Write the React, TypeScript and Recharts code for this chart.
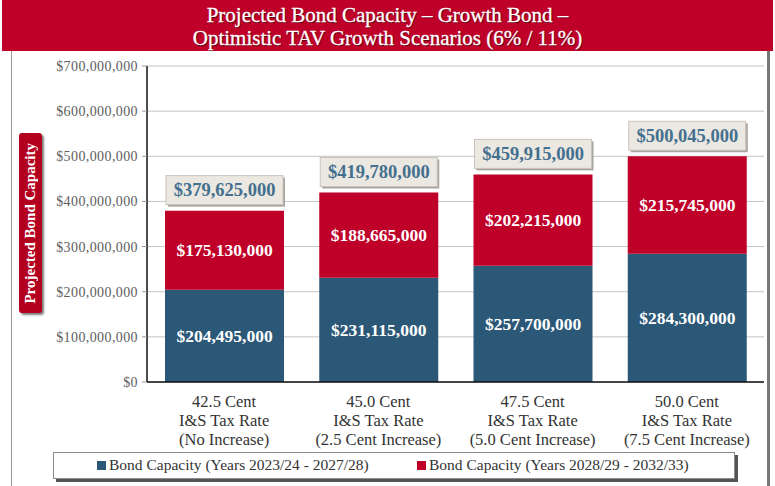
import { Bar, BarChart, CartesianGrid, LabelList, XAxis, YAxis } from "recharts";

const rateLabels = ["42.5 Cent", "45.0 Cent", "47.5 Cent", "50.0 Cent"];
const taxLabels = ["I&S Tax Rate", "I&S Tax Rate", "I&S Tax Rate", "I&S Tax Rate"];
const increaseLabels = [
  "(No Increase)",
  "(2.5 Cent Increase)",
  "(5.0 Cent Increase)",
  "(7.5 Cent Increase)",
];
const earlyCapacity = [204495000, 231115000, 257700000, 284300000];
const lateCapacity = [175130000, 188665000, 202215000, 215745000];
const totalCapacity = [379625000, 419780000, 459915000, 500045000];
const yTicks = [0, 100000000, 200000000, 300000000, 400000000, 500000000, 600000000, 700000000];
const seriesNames = [
  "Bond Capacity (Years 2023/24 - 2027/28)",
  "Bond Capacity (Years 2028/29 - 2032/33)",
];

const BLUE = "#2c5877";
const RED = "#bf0029";
const SERIF = "'Liberation Serif', 'DejaVu Serif', serif";

const data = rateLabels.map((rate, index) => ({
  name: `${rate}\n${taxLabels[index]}\n${increaseLabels[index]}`,
  early: earlyCapacity[index],
  late: lateCapacity[index],
}));

const money = (value: number) => `$${value.toLocaleString("en-US")}`;

function CategoryTick(props: any) {
  const { x, y, payload } = props;
  const lines = String(payload.value).split("\n");

  return (
    <text x={x} y={y + 17} textAnchor="middle" fill="#333" fontSize={16.5} fontFamily={SERIF}>
      {lines.map((line, index) => (
        <tspan key={index} x={x} dy={index === 0 ? 0 : 19}>
          {line}
        </tspan>
      ))}
    </text>
  );
}

function MoneyTick(props: any) {
  const { x, y, payload } = props;

  return (
    <text
      x={x - 2}
      y={y + 5}
      textAnchor="end"
      fill="#5e5e5e"
      fontSize={14}
      fontFamily={SERIF}
      letterSpacing={0.4}
    >
      {money(payload.value)}
    </text>
  );
}

function TotalBox(props: any) {
  const { x, y, width, index } = props;
  const boxWidth = width - 2;
  const boxHeight = 29;
  const left = x + 1;
  const top = y - boxHeight - 6;

  return (
    <g>
      <rect x={left + 2} y={top + 2} width={boxWidth} height={boxHeight} fill="#a8a39c" />
      <rect x={left} y={top} width={boxWidth} height={boxHeight} fill="#ebe7e1" stroke="#c9c3ba" />
      <text
        x={left + boxWidth / 2}
        y={top + boxHeight / 2 + 6}
        textAnchor="middle"
        fill="#44708f"
        fontSize={18.5}
        fontWeight="bold"
        fontFamily={SERIF}
      >
        {money(totalCapacity[index])}
      </text>
    </g>
  );
}

export default function App() {
  return (
    <div
      style={{
        position: "relative",
        width: 775,
        height: 486,
        background: "#fff",
        overflow: "hidden",
        fontFamily: SERIF,
      }}
    >
      <style>{"body{margin:0}"}</style>

      <div
        style={{
          position: "absolute",
          left: 11,
          top: 48,
          width: 755,
          height: 440,
          border: "1px solid #9a9a9a",
          borderRight: "3px solid #777",
        }}
      />

      <div
        style={{
          position: "absolute",
          left: 2,
          top: 0,
          width: 771,
          height: 51,
          background: RED,
          color: "#fff",
          textAlign: "center",
          fontSize: 21,
          lineHeight: "23px",
          paddingTop: 4,
          boxSizing: "border-box",
          textShadow: "1px 1px 1px rgba(0,0,0,0.6)",
          WebkitTextStroke: "0.3px #fff",
        }}
      >
        Projected Bond Capacity – Growth Bond –
        <br />
        Optimistic TAV Growth Scenarios (6% / 11%)
      </div>

      <div
        style={{
          position: "absolute",
          left: 19,
          top: 133,
          width: 23,
          height: 180,
          background: "#b3001f",
          borderRadius: 3,
          boxShadow: "2px 2px 2px rgba(0,0,0,0.5)",
          display: "flex",
          alignItems: "center",
          justifyContent: "center",
        }}
      >
        <span
          style={{
            writingMode: "vertical-rl",
            transform: "rotate(180deg)",
            color: "#fff",
            fontSize: 15,
            fontWeight: "bold",
            whiteSpace: "nowrap",
          }}
        >
          Projected Bond Capacity
        </span>
      </div>

      <div style={{ position: "absolute", left: 0, top: 0 }}>
        <BarChart
          width={775}
          height={486}
          data={data}
          margin={{ top: 66, right: 11, left: 0, bottom: 0 }}
        >
          <CartesianGrid vertical={false} stroke="#c4c4c4" />

          <XAxis
            dataKey="name"
            height={104}
            tick={<CategoryTick />}
            tickLine={false}
            axisLine={{ stroke: "#111", strokeWidth: 1.5 }}
            interval={0}
          />

          <YAxis
            width={147}
            domain={[0, 700000000]}
            ticks={yTicks}
            tick={<MoneyTick />}
            tickSize={5}
            tickLine={{ stroke: "#999" }}
            axisLine={{ stroke: "#111", strokeWidth: 1.5 }}
          />

          <Bar dataKey="early" stackId="capacity" fill={BLUE} barSize={119} isAnimationActive={false}>
            <LabelList
              dataKey="early"
              position="center"
              formatter={(value: any) => money(Number(value))}
              fill="#fff"
              fontSize={17.5}
              fontWeight="bold"
              fontFamily={SERIF}
            />
          </Bar>

          <Bar dataKey="late" stackId="capacity" fill={RED} barSize={119} isAnimationActive={false}>
            <LabelList
              dataKey="late"
              position="center"
              formatter={(value: any) => money(Number(value))}
              fill="#fff"
              fontSize={17.5}
              fontWeight="bold"
              fontFamily={SERIF}
            />
            <LabelList dataKey="late" content={<TotalBox />} />
          </Bar>
        </BarChart>
      </div>

      <div
        style={{
          position: "absolute",
          left: 53,
          top: 452,
          width: 680,
          height: 25,
          background: "#fff",
          border: "1px solid #8c8c8c",
          boxShadow: "3px 3px 0 #555",
          fontSize: 15.5,
          color: "#333",
        }}
      >
        {seriesNames.map((name, index) => (
          <span
            key={name}
            style={{
              position: "absolute",
              top: 3,
              left: index === 0 ? 43 : 363,
              display: "flex",
              alignItems: "center",
              whiteSpace: "nowrap",
            }}
          >
            <span
              style={{
                display: "inline-block",
                width: 9,
                height: 9,
                background: index === 0 ? BLUE : RED,
                marginRight: 3,
              }}
            />
            {name}
          </span>
        ))}
      </div>
    </div>
  );
}
